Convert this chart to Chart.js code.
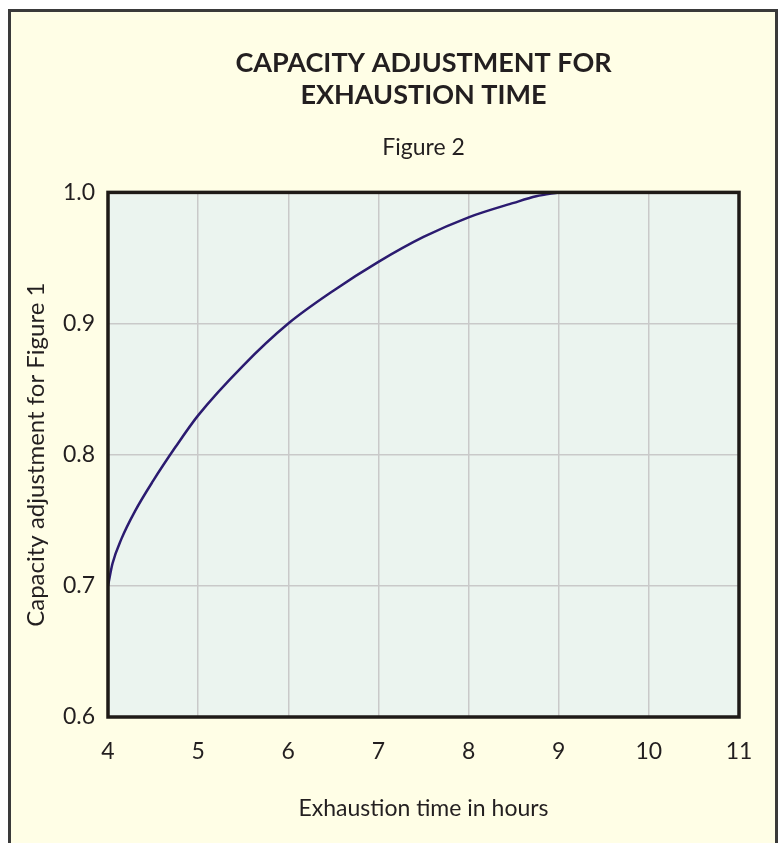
<!DOCTYPE html>
<html>
<head>
<meta charset="utf-8">
<script src="https://cdn.jsdelivr.net/npm/chart.js@4/dist/chart.umd.min.js"></script>
<style>
  html, body { margin: 0; padding: 0; background: #ffffff; overflow: hidden; }
  #frame {
    position: absolute; left: 8px; top: 9px; width: 764px; height: 900px;
    background: #fffee6; border: 3px solid #3a3a3a; border-bottom: none;
  }
  #personalChart { position: absolute; left: 0; top: 0; }
</style>
</head>
<body>
<div id="frame"></div>
<canvas id="personalChart" width="781" height="843"></canvas>
<script>
// hours of exhaustion time vs capacity factor
const hours = [4.0, 4.05, 4.15, 4.3, 4.5, 4.75, 5.0, 5.5, 6.0, 6.5, 7.0, 7.5, 8.0, 8.5, 8.75, 9.0];
const capacity = [0.700, 0.717, 0.736, 0.757, 0.780, 0.806, 0.830, 0.868, 0.900, 0.925, 0.947, 0.966, 0.981, 0.992, 0.997, 1.000];
const xTicks = [4, 5, 6, 7, 8, 9, 10, 11];
const yTicks = [0.6, 0.7, 0.8, 0.9, 1.0];

const textColor = "#231f20";
const fontName = "Lato";

// plot background and the heavy frame round the plot area
const plotFrame = {
  id: "plotFrame",
  beforeDraw(chart) {
    const { ctx, chartArea: a } = chart;
    ctx.save();
    ctx.fillStyle = "#ebf4ef";
    ctx.fillRect(a.left, a.top, a.right - a.left, a.bottom - a.top);
    ctx.restore();
  },
  afterDatasetsDraw(chart) {
    const { ctx, chartArea: a } = chart;
    ctx.save();
    ctx.strokeStyle = "#1e1a17";
    ctx.lineWidth = 3.5;
    ctx.strokeRect(a.left, a.top, a.right - a.left, a.bottom - a.top);
    ctx.restore();
  },
};

const ctx = document.getElementById("personalChart");

const chart = new Chart(ctx, {
  type: "line",
  data: {
    datasets: [
      {
        data: hours.map((h, i) => ({ x: h, y: capacity[i] })),
        borderColor: "#2b1b70",
        borderWidth: 2.5,
        pointRadius: 0,
        cubicInterpolationMode: "monotone",
        fill: false,
      },
    ],
  },
  options: {
    responsive: false,
    animation: false,
    layout: { padding: { left: 8, right: 42, top: 10, bottom: 21 } },
    plugins: {
      legend: { display: false },
      tooltip: { enabled: false },
      title: {
        display: true,
        fullSize: false,
        text: ["CAPACITY ADJUSTMENT FOR", "EXHAUSTION TIME"],
        color: textColor,
        font: { family: fontName, size: 27, weight: "bold" },
        padding: { top: 37, bottom: 0 },
      },
      subtitle: {
        display: true,
        fullSize: false,
        text: "Figure 2",
        color: textColor,
        font: { family: fontName, size: 23 },
        padding: { top: 22, bottom: 31 },
      },
    },
    scales: {
      x: {
        type: "linear",
        min: 4,
        max: 11,
        afterBuildTicks: (s) => { s.ticks = xTicks.map((v) => ({ value: v })); },
        afterFit: (s) => { s.height = 105; },
        grid: { color: "#c9c9c9", lineWidth: 1.5, drawTicks: false },
        border: { display: false },
        ticks: {
          color: textColor,
          padding: 21,
          font: { family: fontName, size: 23 },
          maxRotation: 0,
        },
        title: {
          display: true,
          text: "Exhaustion time in hours",
          color: textColor,
          font: { family: fontName, size: 23 },
          padding: { top: 0, bottom: 0 },
        },
      },
      y: {
        min: 0.6,
        max: 1.0,
        afterBuildTicks: (s) => { s.ticks = yTicks.map((v) => ({ value: v })); },
        afterFit: (s) => { s.width = 100; },
        grid: { color: "#c9c9c9", lineWidth: 1.5, drawTicks: false },
        border: { display: false },
        ticks: {
          color: textColor,
          padding: 13,
          font: { family: fontName, size: 23 },
          callback: (v) => v.toFixed(1),
        },
        title: {
          display: true,
          text: "Capacity adjustment for Figure 1",
          color: textColor,
          font: { family: fontName, size: 24 },
          padding: { top: 14, bottom: 0 },
        },
      },
    },
  },
  plugins: [plotFrame],
});
</script>
</body>
</html>
